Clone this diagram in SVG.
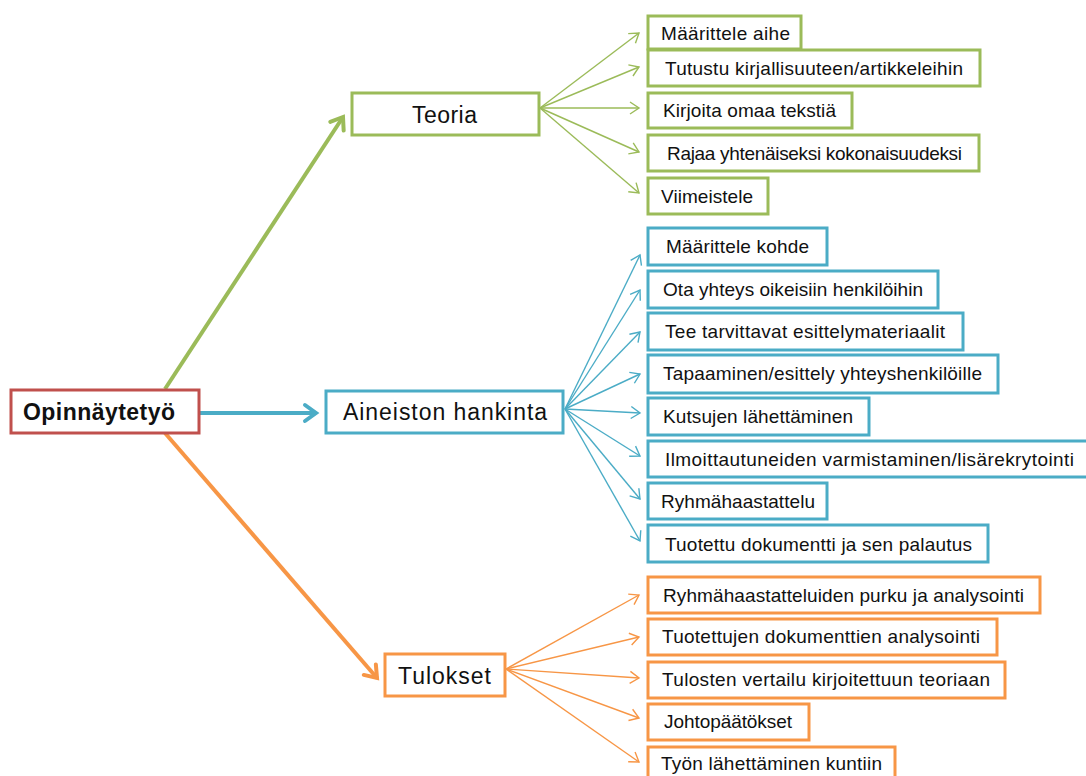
<svg xmlns="http://www.w3.org/2000/svg" width="1086" height="776" viewBox="0 0 1086 776">
  <style>
    text { font-family: "Liberation Sans", Arial, sans-serif; fill: #111; }
    .t-root { font-size: 23px; font-weight: bold; }
    .t-main { font-size: 23px; }
    .t-item { font-size: 19px; }
    rect { fill: #fff; }
    .root { stroke: #C0504D; stroke-width: 3; }
    .g { stroke: #9BBB59; }
    .b { stroke: #4BACC6; }
    .o { stroke: #F79646; }
    .main { stroke-width: 3; }
    .item { stroke-width: 3; }
    .thick { stroke-width: 4; fill: none; }
    .thin { stroke-width: 1.4; fill: none; }
  </style>
  <defs>
    <marker id="mg" markerUnits="userSpaceOnUse" viewBox="-16 -12 20 24" markerWidth="20" markerHeight="24" refX="0" refY="0" orient="auto">
      <path d="M-11,-8 L0,0 L-11,8" fill="none" stroke="#9BBB59" stroke-width="4" stroke-linejoin="miter" stroke-linecap="round"/>
    </marker>
    <marker id="mb" markerUnits="userSpaceOnUse" viewBox="-16 -12 20 24" markerWidth="20" markerHeight="24" refX="0" refY="0" orient="auto">
      <path d="M-11,-8 L0,0 L-11,8" fill="none" stroke="#4BACC6" stroke-width="4" stroke-linejoin="miter" stroke-linecap="round"/>
    </marker>
    <marker id="mo" markerUnits="userSpaceOnUse" viewBox="-16 -12 20 24" markerWidth="20" markerHeight="24" refX="0" refY="0" orient="auto">
      <path d="M-11,-8 L0,0 L-11,8" fill="none" stroke="#F79646" stroke-width="4" stroke-linejoin="miter" stroke-linecap="round"/>
    </marker>
    <marker id="sg" markerUnits="userSpaceOnUse" viewBox="-12 -8 14 16" markerWidth="14" markerHeight="16" refX="0" refY="0" orient="auto">
      <path d="M-9,-6 L0,0 L-9,6" fill="none" stroke="#9BBB59" stroke-width="1.4"/>
    </marker>
    <marker id="sb" markerUnits="userSpaceOnUse" viewBox="-12 -8 14 16" markerWidth="14" markerHeight="16" refX="0" refY="0" orient="auto">
      <path d="M-9,-6 L0,0 L-9,6" fill="none" stroke="#4BACC6" stroke-width="1.4"/>
    </marker>
    <marker id="so" markerUnits="userSpaceOnUse" viewBox="-12 -8 14 16" markerWidth="14" markerHeight="16" refX="0" refY="0" orient="auto">
      <path d="M-9,-6 L0,0 L-9,6" fill="none" stroke="#F79646" stroke-width="1.4"/>
    </marker>
  </defs>

  <rect x="0" y="0" width="1086" height="776" style="fill:#fff"/>

  <!-- connectors -->
  <g id="connectors">
    <line class="g thick" x1="165" y1="389" x2="343" y2="117" marker-end="url(#mg)"/>
    <line class="b thick" x1="199" y1="413" x2="316" y2="413" marker-end="url(#mb)"/>
    <line class="o thick" x1="165" y1="433" x2="377" y2="678" marker-end="url(#mo)"/>

    <g class="g thin">
      <line x1="540" y1="108" x2="639" y2="33" marker-end="url(#sg)"/>
      <line x1="540" y1="108" x2="639" y2="67" marker-end="url(#sg)"/>
      <line x1="540" y1="108" x2="639" y2="108" marker-end="url(#sg)"/>
      <line x1="540" y1="108" x2="639" y2="152" marker-end="url(#sg)"/>
      <line x1="540" y1="108" x2="639" y2="193" marker-end="url(#sg)"/>
    </g>
    <g class="b thin">
      <line x1="565" y1="409" x2="640" y2="255" marker-end="url(#sb)"/>
      <line x1="565" y1="409" x2="640" y2="290" marker-end="url(#sb)"/>
      <line x1="565" y1="409" x2="640" y2="332" marker-end="url(#sb)"/>
      <line x1="565" y1="409" x2="640" y2="374" marker-end="url(#sb)"/>
      <line x1="565" y1="409" x2="640" y2="413" marker-end="url(#sb)"/>
      <line x1="565" y1="409" x2="640" y2="456" marker-end="url(#sb)"/>
      <line x1="565" y1="409" x2="640" y2="499" marker-end="url(#sb)"/>
      <line x1="565" y1="409" x2="640" y2="541" marker-end="url(#sb)"/>
    </g>
    <g class="o thin">
      <line x1="506" y1="669" x2="639" y2="595" marker-end="url(#so)"/>
      <line x1="506" y1="669" x2="639" y2="637" marker-end="url(#so)"/>
      <line x1="506" y1="669" x2="639" y2="678" marker-end="url(#so)"/>
      <line x1="506" y1="669" x2="639" y2="718" marker-end="url(#so)"/>
      <line x1="506" y1="669" x2="639" y2="762" marker-end="url(#so)"/>
    </g>
  </g>

  <!-- root -->
  <g id="opinnaytetyo">
    <rect class="root" x="11" y="390" width="188" height="43"/>
    <text class="t-root" x="23" y="420" textLength="152">Opinnäytetyö</text>
  </g>

  <!-- main branches -->
  <g id="teoria">
    <rect class="g main" x="352" y="93" width="187" height="42"/>
    <text class="t-main" x="412" y="123" textLength="65">Teoria</text>
  </g>
  <g id="aineiston-hankinta">
    <rect class="b main" x="326" y="391" width="237" height="42"/>
    <text class="t-main" x="343" y="420" textLength="204">Aineiston hankinta</text>
  </g>
  <g id="tulokset">
    <rect class="o main" x="385" y="654" width="120" height="42"/>
    <text class="t-main" x="398" y="684" textLength="93">Tulokset</text>
  </g>

  <!-- Teoria items -->
  <g id="g1"><rect class="g item" x="648" y="16" width="153" height="33"/><text class="t-item" x="661" y="40" textLength="129">Määrittele aihe</text></g>
  <g id="g2"><rect class="g item" x="648" y="50" width="332" height="36"/><text class="t-item" x="665" y="75" textLength="298">Tutustu kirjallisuuteen/artikkeleihin</text></g>
  <g id="g3"><rect class="g item" x="648" y="93" width="204" height="35"/><text class="t-item" x="663" y="117" textLength="173">Kirjoita omaa tekstiä</text></g>
  <g id="g4"><rect class="g item" x="648" y="135" width="331" height="36"/><text class="t-item" x="667" y="160" textLength="295">Rajaa yhtenäiseksi kokonaisuudeksi</text></g>
  <g id="g5"><rect class="g item" x="648" y="178" width="120" height="36"/><text class="t-item" x="661" y="203" textLength="92">Viimeistele</text></g>

  <!-- Aineiston hankinta items -->
  <g id="b1"><rect class="b item" x="648" y="228" width="179" height="37"/><text class="t-item" x="666" y="253" textLength="143">Määrittele kohde</text></g>
  <g id="b2"><rect class="b item" x="648" y="271" width="290" height="37"/><text class="t-item" x="663" y="296" textLength="260">Ota yhteys oikeisiin henkilöihin</text></g>
  <g id="b3"><rect class="b item" x="648" y="313" width="315" height="37"/><text class="t-item" x="665" y="338" textLength="280">Tee tarvittavat esittelymateriaalit</text></g>
  <g id="b4"><rect class="b item" x="648" y="355" width="350" height="38"/><text class="t-item" x="663" y="380" textLength="319">Tapaaminen/esittely yhteyshenkilöille</text></g>
  <g id="b5"><rect class="b item" x="648" y="398" width="221" height="37"/><text class="t-item" x="663" y="423" textLength="190">Kutsujen lähettäminen</text></g>
  <g id="b6"><rect class="b item" x="648" y="441" width="442" height="36"/><text class="t-item" x="665" y="466" textLength="409">Ilmoittautuneiden varmistaminen/lisärekrytointi</text></g>
  <g id="b7"><rect class="b item" x="648" y="483" width="179" height="36"/><text class="t-item" x="661" y="508" textLength="154">Ryhmähaastattelu</text></g>
  <g id="b8"><rect class="b item" x="648" y="525" width="340" height="37"/><text class="t-item" x="665" y="551" textLength="307">Tuotettu dokumentti ja sen palautus</text></g>

  <!-- Tulokset items -->
  <g id="o1"><rect class="o item" x="648" y="577" width="392" height="36"/><text class="t-item" x="663" y="602" textLength="361">Ryhmähaastatteluiden purku ja analysointi</text></g>
  <g id="o2"><rect class="o item" x="648" y="619" width="349" height="36"/><text class="t-item" x="662" y="643" textLength="318">Tuotettujen dokumenttien analysointi</text></g>
  <g id="o3"><rect class="o item" x="648" y="662" width="357" height="36"/><text class="t-item" x="662" y="686" textLength="328">Tulosten vertailu kirjoitettuun teoriaan</text></g>
  <g id="o4"><rect class="o item" x="648" y="704" width="161" height="36"/><text class="t-item" x="664" y="728" textLength="128">Johtopäätökset</text></g>
  <g id="o5"><rect class="o item" x="648" y="747" width="247" height="36"/><text class="t-item" x="661" y="770" textLength="221">Työn lähettäminen kuntiin</text></g>
</svg>
